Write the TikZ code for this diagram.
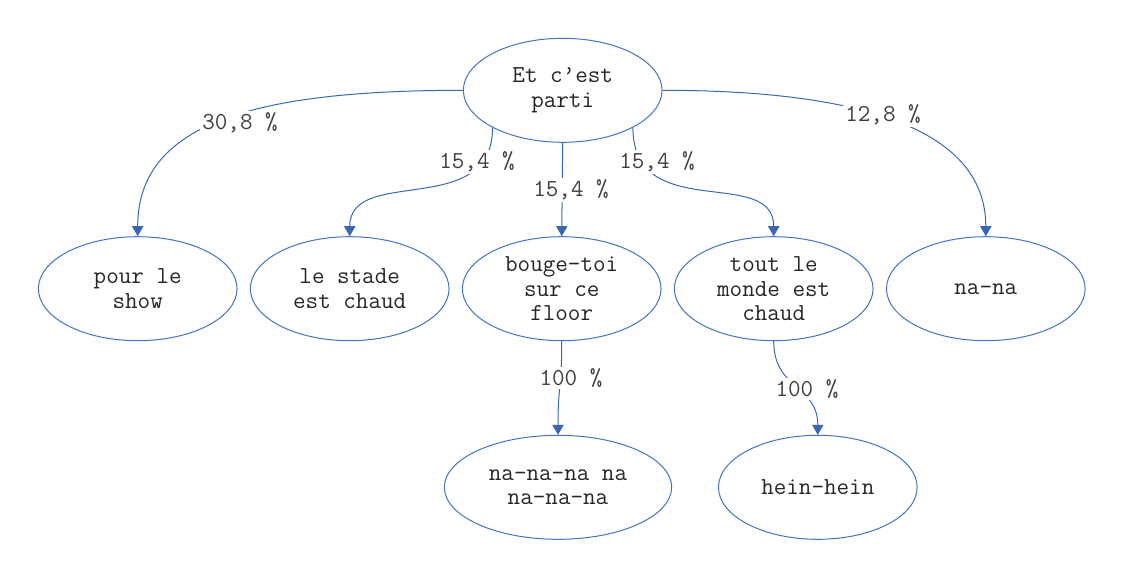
\documentclass[tikz,border=0pt]{standalone}
\usepackage{fontspec}
\usetikzlibrary{shapes.geometric,arrows.meta}
\definecolor{edgeblue}{RGB}{58,104,176}
\definecolor{nodeblue}{RGB}{68,114,196}
\begin{document}
\begin{tikzpicture}[x=0.75pt,y=-0.75pt,
  state/.style={ellipse,draw=nodeblue,line width=0.75pt,minimum width=149pt,minimum height=78pt,inner sep=0pt,align=center,text=black!85,font=\ttfamily\fontsize{18.3}{18.5}\selectfont},
  wide/.style={minimum width=170.5pt},
  edge/.style={draw=edgeblue,line width=0.75pt,-{Triangle[width=8.5pt,length=7.5pt]}},
  lbl/.style={fill=white,inner sep=1.5pt,text=black!75,font=\ttfamily\fontsize{18.3}{18.5}\selectfont}]
\useasboundingbox (0,0) rectangle (1123,586);
\node[state] (root) at (562.7,90.3) {Et c’est\\parti};
\node[state] (pour) at (137.7,288.7) {pour le\\show};
\node[state] (stade) at (349.7,288.7) {le stade\\est chaud};
\node[state] (bouge) at (561.7,288.7) {bouge-toi\\sur ce\\floor};
\node[state] (tout) at (773.7,288.7) {tout le\\monde est\\chaud};
\node[state] (nana) at (985.8,288.7) {na-na};
\node[state,wide] (nanana) at (558,487.3) {na-na-na na\\na-na-na};
\node[state] (hein) at (817.8,487.3) {hein-hein};
\draw[edge] (root.west) .. controls (250,90.3) and (137.7,125) .. (pour.north);
\draw[edge] (root.208) .. controls (493,220) and (349.7,165) .. (stade.north);
\draw[edge] (root.south) -- (bouge.north);
\draw[edge] (root.332) .. controls (633,225) and (773.7,165) .. (tout.north);
\draw[edge] (root.east) .. controls (850,90.3) and (985.8,125) .. (nana.north);
\draw[edge] (bouge.south) .. controls (561.7,390) and (558,385) .. (nanana.north);
\draw[edge] (tout.south) .. controls (773.7,390) and (817.8,385) .. (hein.north);
\node[lbl] (l1) at (240,123) {30,8 \%};
\node[lbl] (l2) at (477,162) {15,4 \%};
\node[lbl] (l3) at (571,190) {15,4 \%};
\node[lbl] (l4) at (657,162) {15,4 \%};
\node[lbl] (l5) at (883,115) {12,8 \%};
\node[lbl] (l6) at (571,378) {100 \%};
\node[lbl] (l7) at (807,389) {100 \%};
\end{tikzpicture}
\end{document}
